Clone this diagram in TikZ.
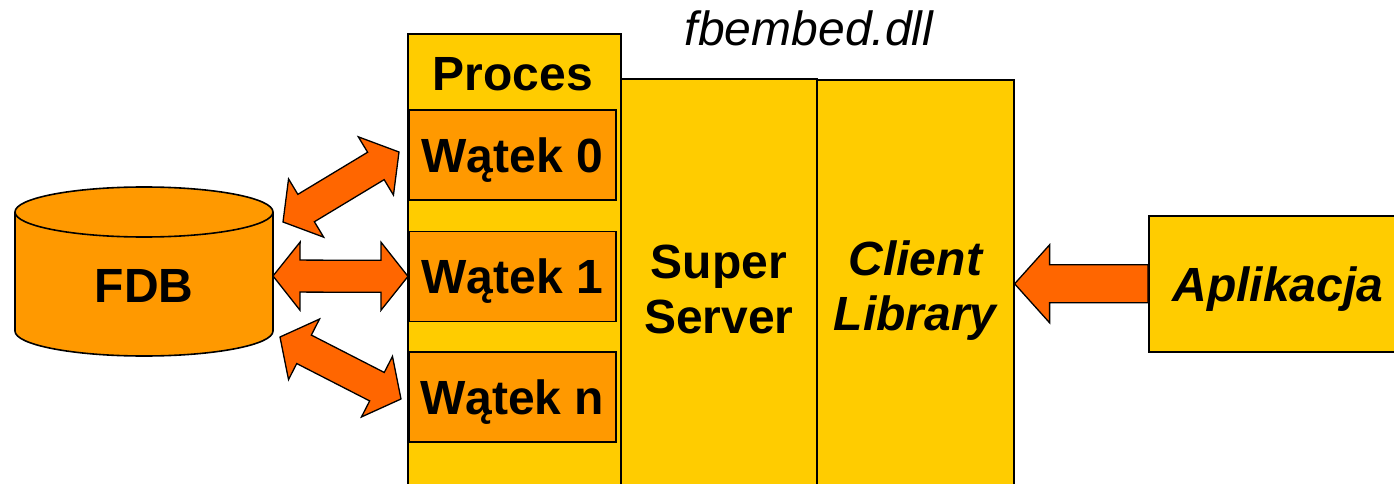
\documentclass[tikz,border=0pt]{standalone}
\usepackage{fontspec}
\setmainfont{Liberation Sans}
\usetikzlibrary{calc,positioning}

\definecolor{boxyellow}{HTML}{FFCC00}
\definecolor{boxorange}{HTML}{FF9900}
\definecolor{arroworange}{HTML}{FF6600}

% fat double arrow between two points
\newcommand{\dblarrow}[2]{%
  \path[draw, line width=1.3pt, fill=arroworange, line join=miter]
    let \p1=($(#2)-(#1)$), \n1={veclen(\x1,\y1)}, \n2={atan2(\y1,\x1)}, \n3={\n1-27pt} in
    [shift={(#1)}, rotate=\n2]
    (0pt,0pt) -- (27pt,34pt) -- (27pt,16pt) -- (\n3,16pt) -- (\n3,34pt)
    -- (\n1,0pt) -- (\n3,-34pt) -- (\n3,-16pt) -- (27pt,-16pt)
    -- (27pt,-34pt) -- cycle;}
% fat single arrow, tip at #2
\newcommand{\onearrow}[2]{%
  \path[draw, line width=1.3pt, fill=arroworange, line join=miter]
    let \p1=($(#1)-(#2)$), \n1={veclen(\x1,\y1)}, \n2={atan2(\y1,\x1)} in
    [shift={(#2)}, rotate=\n2]
    (0pt,0pt) -- (35pt,39pt) -- (35pt,19pt) -- (\n1,19pt) -- (\n1,-19pt)
    -- (35pt,-19pt) -- (35pt,-39pt) -- cycle;}

\begin{document}
\begin{tikzpicture}[x=1pt, y=-1pt,
    every node/.style={font=\fontsize{48}{55}\selectfont\bfseries, inner sep=0pt, align=center},
    panel/.style={rectangle, draw, line width=1.6pt, fill=boxyellow, anchor=north west},
    threadbox/.style={rectangle, draw, line width=1.6pt, fill=boxorange,
      minimum width=207pt, minimum height=90pt, text depth=0pt},
    node distance=30pt]
  \useasboundingbox (0,0) rectangle (1394,484);
  \clip (0,0) rectangle (1394,484);

  \node (proces) [panel, minimum width=213pt, minimum height=470pt] at (407,33) {};
  \node (procesname) [anchor=base] at (513,91) {Proces};
  \node (watek0) [threadbox, anchor=north west] at (408,109) {Wątek 0};
  \node (watek1) [threadbox, below=30pt of watek0] {Wątek 1};
  \node (watekn) [threadbox, below=29pt of watek1] {Wątek n};

  \node (server) [panel, minimum width=196pt, minimum height=422pt] at (620,78) {Super\\Server};
  \node (client) [panel, minimum width=197pt, minimum height=421pt, font=\fontsize{48}{55}\selectfont\bfseries\itshape] at (816,79) {Client\\Library};
  \node (dll) [anchor=base, font=\fontsize{48}{55}\selectfont\itshape] at (809,46) {fbembed.dll};

  \node (aplikacja) [panel, minimum width=258pt, minimum height=136pt, text depth=0pt, font=\fontsize{48}{55}\selectfont\bfseries\itshape] at (1148,215) {Aplikacja};

  % database
  \draw[line width=1.6pt, fill=boxorange] (15,212) -- (15,331)
    arc[start angle=180, end angle=0, x radius=129, y radius=25] -- (273,212)
    arc[start angle=0, end angle=-180, x radius=129, y radius=25] -- cycle;
  \draw[line width=1.6pt] (15,212) arc[start angle=180, end angle=0, x radius=129, y radius=25];
  \node (fdb) [text depth=0pt] at (144,286) {FDB};

  \coordinate (db0) at (283,222);
  \coordinate (w0) at (399,152);
  \coordinate (db1) at (273,276);
  \coordinate (dbn) at (280,337);
  \coordinate (wn) at (401,399);

  \dblarrow{db0}{w0}
  \dblarrow{db1}{watek1.west}
  \dblarrow{dbn}{wn}
  \onearrow{aplikacja.west}{client.east |- aplikacja.west}
\end{tikzpicture}
\end{document}
